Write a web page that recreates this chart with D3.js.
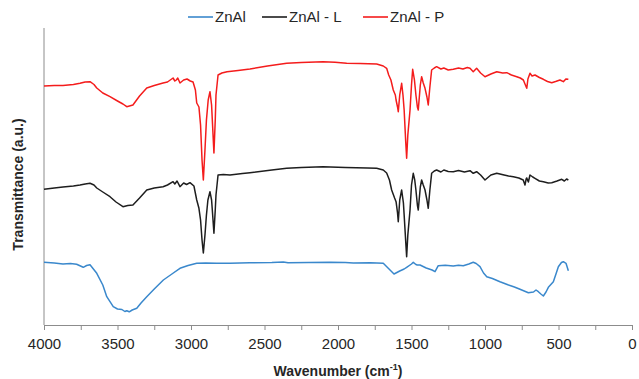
<!DOCTYPE html>
<html>
<head>
<meta charset="utf-8">
<script src="https://cdn.jsdelivr.net/npm/d3@7"></script>
<style>
  html, body { margin: 0; padding: 0; background: #fff; }
  svg { display: block; font-family: "Liberation Sans", Arial, sans-serif; }
</style>
</head>
<body>
<svg id="chart" width="639" height="379"></svg>
<script>
// Series names and colours
const seriesNames = ["ZnAl", "ZnAl - L", "ZnAl - P"];
const seriesColors = ["#3a88cc", "#1e1e1e", "#f41c1c"];

// X ticks (wavenumber, cm-1)
const xTickLabels = [4000, 3500, 3000, 2500, 2000, 1500, 1000, 500, 0];

// Spectra: [wavenumber, transmittance (arbitrary offset units)]
const znAl = [
  [4000,62.7],[3930,62],[3871,61],[3820,61.5],[3778,60.7],[3733,57.7],[3710,59.5],[3687,60.3],[3641,51.7],
  [3600,40],[3573,28.3],[3529,18.3],[3500,16],[3470,15.5],[3450,13.5],[3437,14.3],[3420,13.2],[3400,15],[3369,16.7],
  [3340,22],[3301,28.3],[3250,36],[3188,45],[3130,51],[3075,56.7],[3020,59.5],[2961,61.7],[2900,62],[2825,61.7],
  [2735,61.7],[2600,62.3],[2450,62.5],[2372,63],[2340,62.2],[2200,62.6],[2054,62.7],[1950,62.4],[1896,62],
  [1780,62.2],[1692,61.7],[1658,56.7],[1619,51],[1580,54],[1550,56],[1533,57.7],[1500,61],[1488,62.7],[1470,60.5],
  [1461,60],[1442,60],[1400,57],[1360,55],[1340,53.3],[1318,59.3],[1270,59.8],[1216,59],[1180,59.8],[1148,59.3],
  [1110,61],[1080,62.7],[1060,61.5],[1034,58.3],[1010,52],[988,48.3],[950,46.5],[898,43.3],[840,40],[800,38],
  [762,35.7],[705,32.3],[670,33],[653,35],[637,33.3],[620,31],[603,29],[585,33],[569,37.7],[555,40],[535,43.3],
  [515,52],[501,58.3],[480,62.5],[467,63.3],[449,61.7],[433,54.3]
];

const znAlL = [
  [4000,135.7],[3930,137],[3871,138],[3800,139],[3755,140],[3720,141],[3687,141.7],[3660,140],[3641,137],
  [3600,133],[3551,128.3],[3510,123],[3463,118.3],[3430,119.5],[3395,120],[3350,127],[3301,135],[3250,137],
  [3190,138.3],[3160,140],[3122,143.3],[3110,141],[3095,144],[3075,138.3],[3050,142],[3030,140.5],[3007,142.3],
  [2980,139],[2961,125],[2946,116.7],[2935,105],[2925,85],[2916,72],[2905,90],[2895,110],[2885,125],[2871,133.3],
  [2860,125],[2855,115],[2844,91.7],[2835,115],[2830,130],[2816,150],[2780,150.5],[2735,150],[2650,151.5],
  [2599,152.3],[2450,155],[2349,156.7],[2250,157.5],[2102,158.3],[1950,157.5],[1800,157],[1737,156.7],
  [1692,155],[1669,152],[1650,145],[1635,135],[1615,127],[1605,123.3],[1595,112],[1590,103.3],[1580,125],
  [1567,135],[1555,122],[1550,110],[1540,85],[1533,68.3],[1525,90],[1510,115],[1500,140],[1488,151.7],
  [1478,145],[1470,135],[1460,120],[1454,115],[1440,138],[1431,145],[1420,140],[1408,135],[1395,125],
  [1386,116.7],[1375,135],[1363,151.7],[1345,154],[1329,155],[1300,153],[1280,155],[1250,153.5],[1216,153.3],
  [1180,154.5],[1140,153],[1102,154.3],[1080,151.7],[1057,153.3],[1030,150],[1000,145],[960,150],[920,151.7],
  [870,150],[840,149],[807,148.3],[770,147],[740,145],[728,140],[720,146],[716,147],[705,143],[694,150],
  [675,148],[660,146.7],[630,144],[603,143.3],[570,142],[546,142.3],[510,144],[478,145.7],[460,144],[445,146],[433,145]
];

const znAlP = [
  [4000,239],[3930,239.5],[3871,239.5],[3800,240.5],[3755,241.7],[3720,243],[3687,243.3],[3660,240.5],[3641,237],
  [3600,232],[3551,228.3],[3500,224],[3463,221],[3437,218.3],[3395,220],[3350,229],[3301,237],[3250,239.5],
  [3190,242],[3160,243],[3122,247],[3110,244],[3100,245],[3090,247],[3075,242],[3050,245],[3027,246],[3005,244],
  [2986,243],[2970,235],[2961,222],[2946,218],[2935,200],[2925,165],[2916,145],[2905,175],[2895,205],[2883,225],
  [2871,233.3],[2860,220],[2855,205],[2844,172],[2835,205],[2830,230],[2816,250],[2790,252],[2755,253.3],
  [2680,254.5],[2599,256],[2480,259],[2349,261.7],[2250,262.5],[2102,263.3],[2020,262.8],[1941,261.7],
  [1850,261.5],[1737,261],[1692,259],[1669,256.7],[1655,250],[1640,245],[1624,235],[1610,230],[1605,225],
  [1595,218],[1590,213.3],[1580,230],[1567,241.7],[1558,230],[1550,215],[1540,185],[1533,166.7],[1525,190],
  [1510,215],[1500,240],[1492,255.7],[1480,245],[1470,230],[1460,218],[1454,215],[1440,240],[1431,248.3],
  [1420,242],[1408,236.7],[1395,228],[1386,220],[1375,238],[1363,255],[1345,257],[1329,258.3],[1300,256],
  [1280,257],[1250,255],[1216,255.7],[1180,257],[1150,256],[1120,257.5],[1102,256.7],[1080,253.3],[1057,256.7],
  [1030,252],[1000,248.3],[960,251],[920,253.3],[880,252],[852,252.3],[820,250],[784,248.3],[760,247],
  [739,245],[728,241],[716,236.7],[708,246],[694,251.7],[680,249],[660,250],[630,247.5],[603,245.7],[575,243.5],
  [546,242.3],[520,243.5],[490,245],[467,243.3],[450,246],[433,245.7]
];

const seriesData = [znAl, znAlL, znAlP];

const svg = d3.select("#chart");
const mLeft = 44, mRight = 632, mTop = 28, mBottom = 325;

const x = d3.scaleLinear().domain([4000, 0]).range([mLeft, mRight]);
const y = d3.scaleLinear().domain([0, 297]).range([mBottom, mTop]);

const axisColor = "#8c8c8c";
const textColor = "#262626";

// X axis
const xAxis = d3.axisBottom(x)
  .tickValues(d3.range(0, 4001, 250))
  .tickSize(5)
  .tickFormat(d => xTickLabels.includes(d) ? d : "");
const gx = svg.append("g").attr("transform", `translate(0,${mBottom})`).call(xAxis);
gx.select(".domain").attr("stroke", axisColor).attr("stroke-width", 1);
gx.selectAll(".tick line").attr("stroke", axisColor);
gx.selectAll(".tick text")
  .attr("fill", textColor)
  .attr("font-size", 15)
  .attr("font-family", "Liberation Sans, Arial, sans-serif")
  .attr("y", 10)
  .attr("dy", "0.95em");

// Y axis line only
svg.append("line")
  .attr("x1", mLeft).attr("x2", mLeft)
  .attr("y1", y(297)).attr("y2", y(0))
  .attr("stroke", axisColor).attr("stroke-width", 1);

// Lines
const line = d3.line().x(d => x(d[0])).y(d => y(d[1])).curve(d3.curveLinear);
seriesData.forEach((data, i) => {
  svg.append("path")
    .datum(data)
    .attr("fill", "none")
    .attr("stroke", seriesColors[i])
    .attr("stroke-width", 1.5)
    .attr("stroke-linejoin", "round")
    .attr("d", line);
});

// Legend
const legendX = [188, 262, 363];
const legend = svg.append("g");
seriesNames.forEach((name, i) => {
  legend.append("line")
    .attr("x1", legendX[i]).attr("x2", legendX[i] + 25)
    .attr("y1", 17).attr("y2", 17)
    .attr("stroke", seriesColors[i]).attr("stroke-width", 1.6);
  legend.append("text")
    .attr("x", legendX[i] + 27).attr("y", 17)
    .attr("dy", "0.35em")
    .attr("font-size", 15)
    .attr("fill", textColor)
    .text(name);
});

// Axis titles
const xt = svg.append("text")
  .attr("x", (mLeft + mRight) / 2).attr("y", 376)
  .attr("text-anchor", "middle")
  .attr("font-size", 14).attr("font-weight", "bold")
  .attr("fill", textColor);
xt.append("tspan").text("Wavenumber (cm");
xt.append("tspan").attr("font-size", 9).attr("dy", -6).text("-1");
xt.append("tspan").attr("dy", 6).text(")");

svg.append("text")
  .attr("transform", `translate(23,${(mTop + mBottom) / 2 + 8}) rotate(-90)`)
  .attr("text-anchor", "middle")
  .attr("font-size", 14).attr("font-weight", "bold")
  .attr("fill", textColor)
  .text("Transmittance (a.u.)");
</script>
</body>
</html>
